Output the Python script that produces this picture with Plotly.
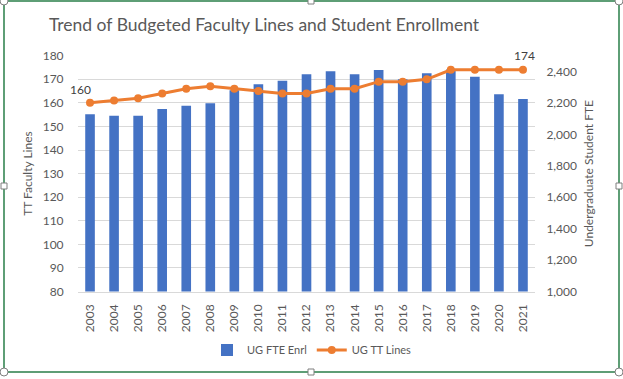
import plotly.graph_objects as go

years = list(range(2003, 2022))
ug_fte_enrl = [2127, 2118, 2118, 2161, 2182, 2197, 2281, 2319, 2340, 2382,
               2401, 2382, 2409, 2350, 2388, 2413, 2366, 2254, 2224]
ug_tt_lines = [160, 161, 162, 164, 166, 167, 166, 165, 164, 164,
               166, 166, 169, 169, 170, 174, 174, 174, 174]

W, H = 623, 379
FONT = "Lato"
GRAY = "#595959"

def px(x):
    return x / W

def py(y):
    return 1 - y / H

fig = go.Figure()
fig.add_trace(go.Bar(
    x=years, y=ug_fte_enrl, name="UG FTE Enrl",
    marker=dict(color="#4472C4", line=dict(width=0)),
    yaxis="y",
))
fig.add_trace(go.Scatter(
    x=years, y=ug_tt_lines, name="UG TT Lines",
    mode="lines+markers",
    line=dict(color="#ED7D31", width=3),
    marker=dict(color="#ED7D31", size=8),
    yaxis="y2",
))

fig.add_annotation(x=years[0], y=ug_tt_lines[0], xref="x", yref="y2",
                   text=str(ug_tt_lines[0]), showarrow=False,
                   xshift=-10, yshift=13,
                   font=dict(family=FONT, size=12, color="#404040"))
fig.add_annotation(x=years[-1], y=ug_tt_lines[-1], xref="x", yref="y2",
                   text=str(ug_tt_lines[-1]), showarrow=False,
                   xshift=2, yshift=14,
                   font=dict(family=FONT, size=12, color="#404040"))

shapes = [
    dict(type="rect", xref="paper", yref="paper",
         x0=px(4), x1=px(619), y0=py(372), y1=py(1),
         line=dict(color="#5E9E76", width=2), layer="above"),
]
for (cx, cy) in [(4, 1), (619, 1), (4, 372), (619, 372)]:
    shapes.append(dict(type="circle", xref="paper", yref="paper",
                       x0=px(cx - 4), x1=px(cx + 4), y0=py(cy + 4), y1=py(cy - 4),
                       line=dict(color="#7F7F7F", width=1), fillcolor="white",
                       layer="above"))
for (cx, cy) in [(311, 1), (4, 186), (619, 186), (311, 372)]:
    shapes.append(dict(type="rect", xref="paper", yref="paper",
                       x0=px(cx - 3), x1=px(cx + 3), y0=py(cy + 3), y1=py(cy - 3),
                       line=dict(color="#7F7F7F", width=1), fillcolor="white",
                       layer="above"))

fig.update_layout(
    template="none",
    width=W, height=H, autosize=False,
    margin=dict(l=0, r=0, t=0, b=0, pad=0),
    paper_bgcolor="white", plot_bgcolor="white",
    font=dict(family=FONT, size=12, color=GRAY),
    title=dict(text="Trend of Budgeted Faculty Lines and Student Enrollment",
               x=px(264), xanchor="center", y=py(25), yanchor="middle",
               font=dict(family=FONT, size=17.5, color=GRAY)),
    bargap=0.6,
    showlegend=True,
    legend=dict(orientation="h", x=px(312), xanchor="center",
                y=py(350), yanchor="middle",
                font=dict(family=FONT, size=11, color=GRAY),
                bgcolor="rgba(0,0,0,0)", traceorder="normal"),
    xaxis=dict(domain=[px(78), px(535)], range=[2002.5, 2021.5],
               automargin=False,
               tickmode="linear", tick0=2003, dtick=1,
               tickangle=-90, showgrid=False, zeroline=False, showline=True,
               linecolor="#D9D9D9", linewidth=1,
               ticks="outside", ticklen=7, tickcolor="rgba(255,255,255,0)",
               tickfont=dict(family=FONT, size=12, color=GRAY)),
    yaxis=dict(domain=[py(291.5), py(55.7)], side="right", anchor="x",
               automargin=False,
               range=[1000, 2500], tickvals=list(range(1000, 2401, 200)),
               tickformat=",", showgrid=False, zeroline=False, showline=False,
               ticks="outside", ticklen=8, tickcolor="rgba(255,255,255,0)",
               title=dict(text="Undergraduate Student FTE", standoff=8,
                          font=dict(family=FONT, size=12, color=GRAY)),
               tickfont=dict(family=FONT, size=12, color=GRAY)),
    yaxis2=dict(overlaying="y", side="left", anchor="x",
                automargin=False,
                range=[80, 180], tickvals=list(range(80, 181, 10)),
                showgrid=True, showline=False,
                gridcolor="#D9D9D9", gridwidth=1, zeroline=False,
                ticks="outside", ticklen=11, tickcolor="rgba(255,255,255,0)",
                title=dict(text="TT Faculty Lines", standoff=7,
                           font=dict(family=FONT, size=12, color=GRAY)),
                tickfont=dict(family=FONT, size=12, color=GRAY)),
    shapes=shapes,
)

fig.write_html(
    "out.html",
    config={"displayModeBar": False},
    post_script="document.body.style.margin='0';document.body.style.overflow='hidden';",
)
